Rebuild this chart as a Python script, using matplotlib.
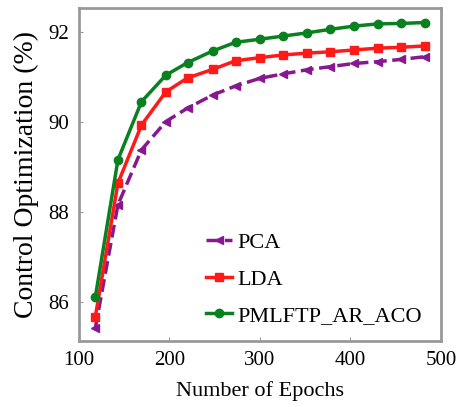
import matplotlib
matplotlib.use("Agg")
import matplotlib.pyplot as plt

# data
epochs = [118, 143, 169, 196, 220, 248, 273, 300, 326, 352, 378, 404, 430, 456, 482]
pca = [85.42, 88.16, 89.38, 90.01, 90.31, 90.60, 90.80, 90.97, 91.07, 91.16, 91.23, 91.30, 91.34, 91.39, 91.45]
lda = [85.67, 88.64, 89.93, 90.67, 90.98, 91.17, 91.36, 91.43, 91.49, 91.53, 91.56, 91.60, 91.64, 91.66, 91.69]
pmlftp = [86.11, 89.16, 90.45, 91.04, 91.32, 91.58, 91.77, 91.84, 91.91, 91.98, 92.06, 92.13, 92.18, 92.19, 92.21]

x_ticks = [100, 200, 300, 400, 500]
y_ticks = [86, 88, 90, 92]

plt.rcParams['font.family'] = ['Liberation Serif', 'DejaVu Serif']

fig = plt.figure(figsize=(4.65, 4.07), dpi=100)
ax = fig.add_axes([0.17, 0.162, 0.778, 0.818])

ax.plot(epochs, pca, color='#86198f', linestyle='--', linewidth=2.5,
        marker='<', markersize=6, label='PCA')
ax.plot(epochs, lda, color='#ff1a1a', linestyle='-', linewidth=2.5,
        marker='s', markersize=6, label='LDA')
ax.plot(epochs, pmlftp, color='#0a8020', linestyle='-', linewidth=2.5,
        marker='o', markersize=6, label='PMLFTP_AR_ACO')

ax.set_xlim(100, 500)
ax.set_ylim(85.13, 92.53)
ax.set_xticks(x_ticks)
ax.set_yticks(y_ticks)
ax.tick_params(direction='in', length=3, width=0.8, color='#999999', labelsize=15, pad=7)

for s in ax.spines.values():
    s.set_color('#999999')
    s.set_linewidth(2)

ax.set_xlabel('Number of Epochs', fontsize=16, labelpad=8)
ax.set_ylabel('Control Optimization (%)', fontsize=20, labelpad=7)

ax.legend(loc='lower left', bbox_to_anchor=(0.295, -0.015), frameon=False,
          fontsize=16, handlelength=1.2, handletextpad=0.2, labelspacing=0.72)

fig.savefig('out.png', dpi=100)
